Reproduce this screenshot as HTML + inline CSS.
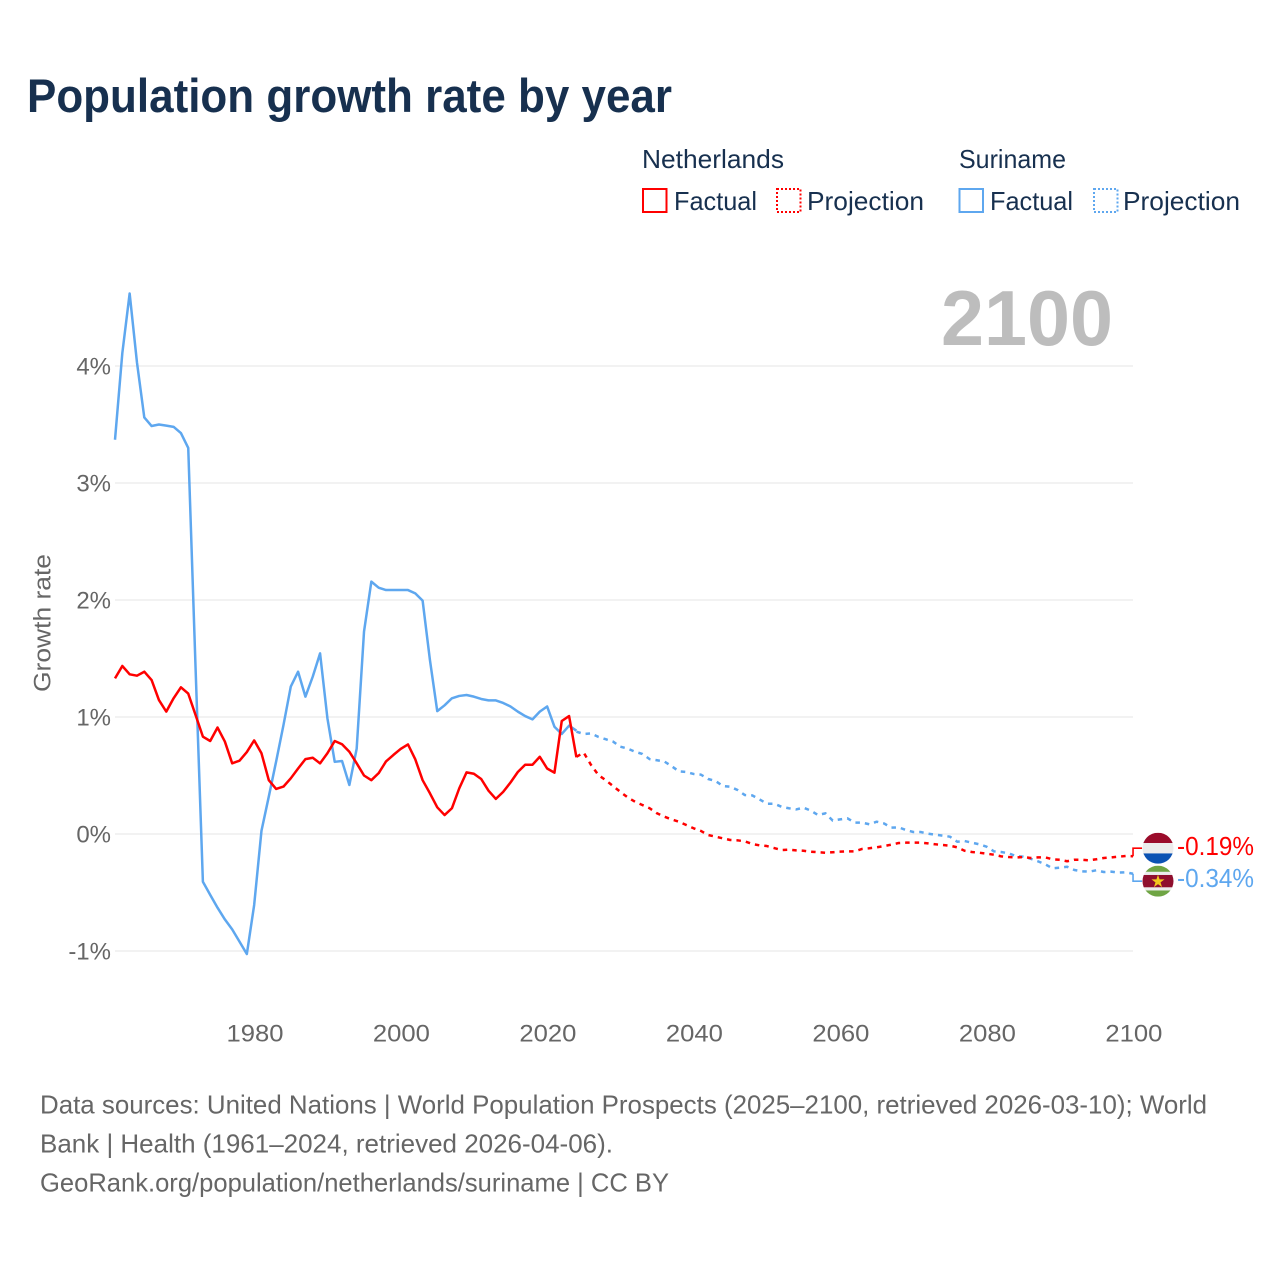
<!DOCTYPE html>
<html lang="en">
<head>
<meta charset="utf-8">
<title>Population growth rate by year</title>
<style>
html,body{margin:0;padding:0;background:#fff;}
svg{display:block;font-family:"Liberation Sans",sans-serif;}
</style>
</head>
<body>
<svg id="chart" xmlns="http://www.w3.org/2000/svg" width="1280" height="1280" viewBox="0 0 1280 1280">
  <rect x="0" y="0" width="1280" height="1280" fill="#ffffff"/>
  <text x="27" y="112" font-size="47" font-weight="700" fill="#17304f" textLength="645" lengthAdjust="spacingAndGlyphs">Population growth rate by year</text>

  <g font-size="26" fill="#17304f">
    <text x="642" y="168" textLength="142" lengthAdjust="spacingAndGlyphs">Netherlands</text>
    <text x="959" y="168" textLength="107" lengthAdjust="spacingAndGlyphs">Suriname</text>
    <rect x="643" y="189" width="23.5" height="23" fill="none" stroke="#ff0000" stroke-width="2"/>
    <text x="674" y="210" textLength="83" lengthAdjust="spacingAndGlyphs">Factual</text>
    <rect x="777" y="189" width="23.5" height="23" fill="none" stroke="#ff0000" stroke-width="2" stroke-dasharray="2 2"/>
    <text x="807" y="210" textLength="117" lengthAdjust="spacingAndGlyphs">Projection</text>
    <rect x="959.5" y="189" width="23.5" height="23" fill="none" stroke="#5ea7ef" stroke-width="2"/>
    <text x="990" y="210" textLength="83" lengthAdjust="spacingAndGlyphs">Factual</text>
    <rect x="1094" y="189" width="23.5" height="23" fill="none" stroke="#5ea7ef" stroke-width="2" stroke-dasharray="2 2"/>
    <text x="1123" y="210" textLength="117" lengthAdjust="spacingAndGlyphs">Projection</text>
  </g>

  <g id="grid"></g>
  <g id="yticks" font-size="24" fill="#666666" text-anchor="end"></g>
  <g id="xticks" font-size="24" fill="#666666" text-anchor="middle"></g>
  <text transform="translate(50.5,692) rotate(-90)" font-size="24" fill="#666666" textLength="138" lengthAdjust="spacingAndGlyphs">Growth rate</text>
  <text id="year-label" x="941" y="345" font-size="78" font-weight="700" fill="#bdbdbd" textLength="172" lengthAdjust="spacingAndGlyphs">2100</text>

  <g id="series"></g>
  <g id="endmarks"></g>

  <g font-size="26" fill="#666666">
    <text x="40" y="1113.5" textLength="1167" lengthAdjust="spacingAndGlyphs">Data sources: United Nations | World Population Prospects (2025–2100, retrieved 2026-03-10); World</text>
    <text x="40" y="1152.5" textLength="573" lengthAdjust="spacingAndGlyphs">Bank | Health (1961–2024, retrieved 2026-04-06).</text>
    <text x="40" y="1191.5" textLength="629" lengthAdjust="spacingAndGlyphs">GeoRank.org/population/netherlands/suriname | CC BY</text>
  </g>
</svg>
<script>
const factualStartYear = 1961;
const projectionStartYear = 2024;
const xTickYears = [1980, 2000, 2020, 2040, 2060, 2080, 2100];
const yTickValues = [-1, 0, 1, 2, 3, 4];
const yTickLabels = ['-1%', '0%', '1%', '2%', '3%', '4%'];

const netherlandsFactual = [1.33,1.436,1.365,1.353,1.387,1.316,1.145,1.046,1.16,1.254,1.20,1.017,0.832,0.795,0.91,0.79,0.604,0.627,0.70,0.80,0.69,0.46,0.385,0.405,0.476,0.56,0.64,0.652,0.604,0.69,0.795,0.767,0.703,0.604,0.50,0.46,0.52,0.62,0.675,0.727,0.766,0.638,0.46,0.348,0.228,0.162,0.22,0.39,0.527,0.515,0.47,0.37,0.30,0.36,0.44,0.53,0.592,0.592,0.66,0.56,0.524,0.966,1.008,0.656];

const surinameFactual = [3.37,4.11,4.62,4.03,3.56,3.487,3.50,3.49,3.48,3.427,3.30,1.42,-0.408,-0.52,-0.63,-0.73,-0.815,-0.92,-1.026,-0.607,0.028,0.32,0.62,0.93,1.26,1.387,1.174,1.345,1.544,0.99,0.617,0.624,0.419,0.73,1.73,2.157,2.105,2.085,2.085,2.085,2.085,2.057,1.995,1.487,1.05,1.10,1.16,1.18,1.188,1.174,1.154,1.142,1.142,1.12,1.09,1.046,1.008,0.98,1.046,1.09,0.917,0.855,0.926,0.883];

const netherlandsProjection = [0.66,0.695,0.59,0.504,0.46,0.41,0.36,0.313,0.276,0.248,0.22,0.177,0.148,0.125,0.105,0.077,0.049,0.026,-0.009,-0.023,-0.037,-0.051,-0.054,-0.063,-0.085,-0.097,-0.103,-0.12,-0.137,-0.134,-0.14,-0.143,-0.151,-0.156,-0.16,-0.156,-0.151,-0.148,-0.148,-0.128,-0.122,-0.114,-0.103,-0.091,-0.077,-0.074,-0.074,-0.074,-0.08,-0.088,-0.094,-0.1,-0.114,-0.143,-0.154,-0.16,-0.168,-0.177,-0.191,-0.197,-0.2,-0.197,-0.205,-0.2,-0.2,-0.216,-0.22,-0.233,-0.22,-0.22,-0.225,-0.216,-0.205,-0.2,-0.194,-0.188,-0.19];

const surinameProjection = [0.875,0.855,0.86,0.83,0.81,0.79,0.746,0.73,0.703,0.684,0.64,0.63,0.62,0.58,0.535,0.53,0.513,0.507,0.47,0.453,0.41,0.404,0.376,0.333,0.33,0.296,0.259,0.259,0.233,0.22,0.21,0.225,0.2,0.162,0.177,0.114,0.125,0.134,0.097,0.097,0.083,0.105,0.09,0.054,0.057,0.034,0.017,0.017,0.003,-0.006,-0.014,-0.023,-0.066,-0.06,-0.074,-0.088,-0.108,-0.148,-0.154,-0.165,-0.188,-0.194,-0.211,-0.233,-0.259,-0.293,-0.288,-0.28,-0.308,-0.319,-0.322,-0.31,-0.325,-0.322,-0.33,-0.327,-0.34];

const NS = 'http://www.w3.org/2000/svg';
const RED = '#ff0000';
const BLUE = '#5ea7ef';

function xScale(year) { return 115 + (year - 1961) * 7.324; }
function yScale(value) { return 834 - value * 117; }

function make(tag, attrs, parent) {
  const el = document.createElementNS(NS, tag);
  for (const k in attrs) el.setAttribute(k, attrs[k]);
  parent.appendChild(el);
  return el;
}

const gridGroup = document.getElementById('grid');
const yTickGroup = document.getElementById('yticks');
const xTickGroup = document.getElementById('xticks');
const seriesGroup = document.getElementById('series');
const endGroup = document.getElementById('endmarks');

yTickValues.forEach(function (v, i) {
  const line = make('line', {x1: 115, x2: 1133, y1: yScale(v), y2: yScale(v), stroke: '#eeeeee', 'stroke-width': 1.6}, gridGroup);
  
  
  const label = make('text', {x: 111, y: yScale(v) + 8.5}, yTickGroup);
  
  
  label.textContent = yTickLabels[i];
});

xTickYears.forEach(function (yr) {
  const label = make('text', {x: xScale(yr) + 0.8, y: 1041.5, textLength: 57, lengthAdjust: 'spacingAndGlyphs'}, xTickGroup);
  
  
  label.textContent = String(yr);
});

function pathFrom(values, startYear) {
  return values.map(function (v, i) {
    return (i ? 'L' : 'M') + xScale(startYear + i).toFixed(2) + ' ' + yScale(v).toFixed(2);
  }).join(' ');
}

function drawLine(values, startYear, color, dashed, name) {
  const attrs = {d: pathFrom(values, startYear), fill: 'none', stroke: color, 'stroke-width': 2.5, 'stroke-linejoin': 'round'};
  if (dashed) attrs['stroke-dasharray'] = '4.5 5';
  const p = make('path', attrs, seriesGroup);
  
  
}

drawLine(surinameProjection, projectionStartYear, BLUE, true, 'suriname-projection-line');
drawLine(netherlandsProjection, projectionStartYear, RED, true, 'netherlands-projection-line');
drawLine(surinameFactual, factualStartYear, BLUE, false, 'suriname-factual-line');
drawLine(netherlandsFactual, factualStartYear, RED, false, 'netherlands-factual-line');

const defs = make('defs', {}, endGroup);

function drawEnd(values, color, offset, labelShift, stripes, country) {
  const last = values[values.length - 1];
  const yEnd = yScale(last);
  const yFlag = yEnd + offset;
  const xEnd = xScale(2100);
  const connector = make('path', {d: 'M' + xEnd + ' ' + yEnd + ' L' + xEnd + ' ' + yFlag + ' L' + (xEnd + 9) + ' ' + yFlag, fill: 'none', stroke: color, 'stroke-width': 1.6}, endGroup);
  
  

  const clip = make('clipPath', {id: 'clip-' + country}, defs);
  make('circle', {cx: 1158, cy: yFlag, r: 15.5}, clip);
  const flag = make('g', {'clip-path': 'url(#clip-' + country + ')'}, endGroup);
  
  
  let top = yFlag - 15.5;
  stripes.forEach(function (s) {
    make('rect', {x: 1142, y: top, width: 32, height: s[0], fill: s[1]}, flag);
    top += s[0];
  });

  const label = make('text', {x: 1177, y: yFlag + labelShift, 'font-size': 26, fill: color, textLength: 77, lengthAdjust: 'spacingAndGlyphs'}, endGroup);
  
  
  label.textContent = last.toFixed(2) + '%';
  return yFlag;
}

drawEnd(netherlandsProjection, RED, -8, 6.8, [[10.3, '#9b0c2b'], [10.4, '#ececec'], [10.3, '#0b52b3']], 'netherlands');
const srFlagY = drawEnd(surinameProjection, BLUE, 7.4, 6, [[6.2, '#6fa544'], [3.1, '#ececec'], [12.4, '#8f0f2e'], [3.1, '#ececec'], [6.2, '#6fa544']], 'suriname');

const star = make('text', {x: 1158, y: srFlagY + 6, 'font-size': 17, fill: '#f2c81e', 'text-anchor': 'middle', 'font-family': '"DejaVu Sans",sans-serif'}, endGroup);


star.textContent = '★';
</script>
</body>
</html>
